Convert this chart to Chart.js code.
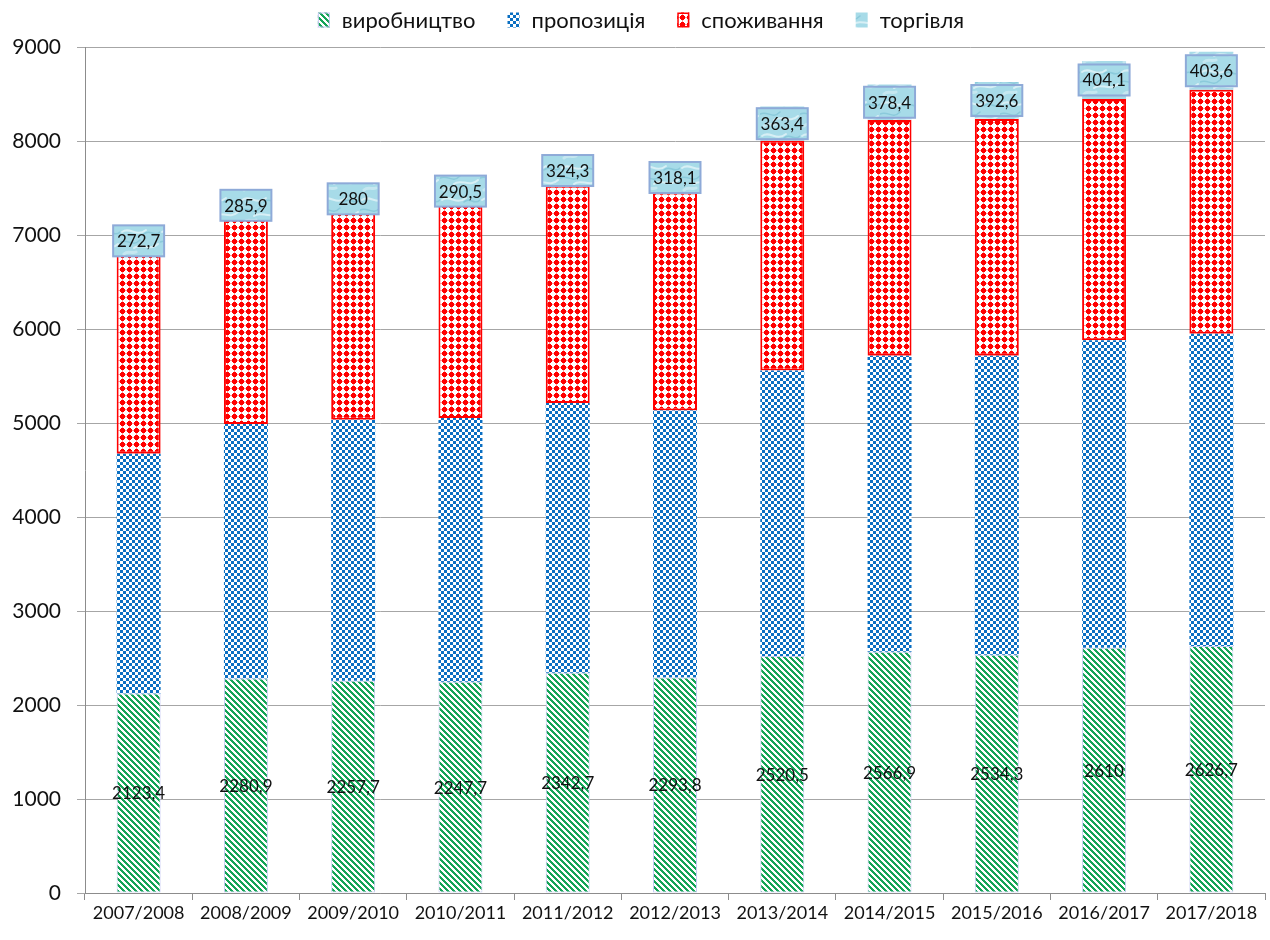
<!DOCTYPE html>
<html>
<head>
<meta charset="utf-8">
<title>Баланс</title>
<script src="https://cdn.jsdelivr.net/npm/chart.js@4/dist/chart.umd.min.js"></script>
<style>
  html, body { margin: 0; padding: 0; background: #ffffff; }
  #wrap { width: 1270px; height: 940px; }
</style>
</head>
<body>
<div id="wrap"><canvas id="chart" width="1270" height="940"></canvas></div>
<script>
// Marketing years
const seasons = ['2007/2008', '2008/2009', '2009/2010', '2010/2011', '2011/2012', '2012/2013',
                 '2013/2014', '2014/2015', '2015/2016', '2016/2017', '2017/2018'];

// Stacked components
const production  = [2123.4, 2280.9, 2257.7, 2247.7, 2342.7, 2293.8, 2520.5, 2566.9, 2534.3, 2610, 2626.7];
const supply      = [2550, 2708, 2777, 2805, 2870, 2840, 3039, 3149, 3182, 3269, 3323];
const consumption = [2128, 2184, 2210, 2269, 2311, 2319, 2443, 2507, 2518, 2568, 2596];
const trade       = [272.7, 285.9, 280, 290.5, 324.3, 318.1, 363.4, 378.4, 392.6, 404.1, 403.6];

// Value axis ticks
const yTicks = [0, 1000, 2000, 3000, 4000, 5000, 6000, 7000, 8000, 9000];

const seriesNames = ['виробництво', 'пропозиція', 'споживання', 'торгівля'];

const FONT = "Lato, 'Open Sans', 'DejaVu Sans', sans-serif";

function tile(w, h, paint) {
  const c = document.createElement('canvas');
  c.width = w; c.height = h;
  const g = c.getContext('2d');
  paint(g, w, h);
  return g.createPattern(c, 'repeat');
}

// Diagonal green hatch
const greenHatch = tile(6, 6, (g) => {
  g.fillStyle = '#ffffff'; g.fillRect(0, 0, 6, 6);
  g.fillStyle = '#14a457';
  for (let y = 0; y < 6; y++) {
    for (let x = 0; x < 6; x++) {
      if (((x - y) % 6 + 6) % 6 < 3) g.fillRect(x, y, 1, 1);
    }
  }
});

// Small blue checkerboard
const blueChecker = tile(6, 6, (g) => {
  g.fillStyle = '#ffffff'; g.fillRect(0, 0, 6, 6);
  g.fillStyle = '#0a6fc2';
  g.fillRect(0, 0, 3, 3);
  g.fillRect(3, 3, 3, 3);
});

// Red dots on a faint grid
const redDots = tile(7, 7, (g) => {
  g.fillStyle = '#ffffff'; g.fillRect(0, 0, 7, 7);
  g.fillStyle = 'rgba(255,0,0,0.45)';
  g.fillRect(0, 3, 7, 1);
  g.fillRect(3, 0, 1, 7);
  g.fillStyle = '#ff0000';
  g.fillRect(2, 1, 3, 5);
  g.fillRect(1, 2, 5, 3);
});

// Pale water-like texture
const waterTex = tile(40, 32, (g, w, h) => {
  g.fillStyle = '#a7dbe8'; g.fillRect(0, 0, w, h);
  g.lineCap = 'round';
  g.strokeStyle = 'rgba(255,255,255,0.55)';
  g.lineWidth = 2;
  g.beginPath(); g.moveTo(2, 8); g.bezierCurveTo(10, 2, 16, 14, 26, 6); g.stroke();
  g.beginPath(); g.moveTo(14, 24); g.bezierCurveTo(20, 18, 30, 28, 38, 20); g.stroke();
  g.strokeStyle = 'rgba(120,190,210,0.6)';
  g.lineWidth = 1.5;
  g.beginPath(); g.moveTo(0, 18); g.bezierCurveTo(8, 14, 12, 24, 20, 16); g.stroke();
  g.beginPath(); g.moveTo(24, 10); g.bezierCurveTo(30, 4, 34, 14, 40, 8); g.stroke();
  g.strokeStyle = 'rgba(255,255,255,0.35)';
  g.lineWidth = 3;
  g.beginPath(); g.moveTo(4, 30); g.bezierCurveTo(8, 26, 12, 30, 16, 28); g.stroke();
});

const fills = [greenHatch, blueChecker, redDots, waterTex];

const fmt = (v) => String(v).replace('.', ',');

// Segment value labels: production in the middle of its bar, trade in a framed box
const valueLabels = {
  id: 'valueLabels',
  afterDatasetsDraw(chart) {
    const ctx = chart.ctx;
    ctx.save();
    ctx.font = '17px ' + FONT;
    ctx.textAlign = 'center';
    ctx.textBaseline = 'middle';
    ctx.fillStyle = '#111111';
    const mProd = chart.getDatasetMeta(0);
    mProd.data.forEach((el, i) => {
      ctx.fillText(fmt(production[i]), el.x, (el.y + el.base) / 2 + 1);
    });
    const mTrade = chart.getDatasetMeta(3);
    mTrade.data.forEach((el, i) => {
      const cy = (el.y + el.base) / 2;
      const bw = el.width + 7;
      const bh = 31;
      ctx.fillStyle = waterTex;
      ctx.fillRect(el.x - bw / 2, cy - bh / 2, bw, bh);
      ctx.strokeStyle = '#8eaad8';
      ctx.lineWidth = 2;
      ctx.strokeRect(el.x - bw / 2, cy - bh / 2, bw, bh);
      ctx.fillStyle = '#111111';
      ctx.fillText(fmt(trade[i]), el.x, cy + 1);
    });
    ctx.restore();
  }
};

// Centered legend row along the top edge
const topLegend = {
  id: 'topLegend',
  afterDraw(chart) {
    const ctx = chart.ctx;
    ctx.save();
    ctx.font = '22px ' + FONT;
    ctx.textBaseline = 'middle';
    const sw = 12, sh = 15, gapText = 12, gapItem = 32;
    const widths = seriesNames.map(n => ctx.measureText(n).width);
    const total = widths.reduce((a, w) => a + sw + gapText + w, 0) + gapItem * (seriesNames.length - 1);
    let x = (chart.width - total) / 2 + 6;
    const cy = 20;
    seriesNames.forEach((name, i) => {
      ctx.fillStyle = fills[i];
      ctx.fillRect(x, cy - sh / 2, sw, sh);
      if (i === 0) { ctx.strokeStyle = '#c3c8f2'; ctx.lineWidth = 1; ctx.strokeRect(x + 0.5, cy - sh / 2 + 0.5, sw - 1, sh - 1); }
      if (i === 2) { ctx.strokeStyle = '#ff0000'; ctx.lineWidth = 1.5; ctx.strokeRect(x + 0.75, cy - sh / 2 + 0.75, sw - 1.5, sh - 1.5); }
      ctx.fillStyle = '#111111';
      ctx.fillText(name, x + sw + gapText, cy + 1);
      x += sw + gapText + widths[i] + gapItem;
    });
    ctx.restore();
  }
};

const datasets = [
  { label: seriesNames[0], data: production,  backgroundColor: greenHatch, borderColor: '#c6caf4', borderWidth: 1 },
  { label: seriesNames[1], data: supply,      backgroundColor: blueChecker, borderWidth: 0 },
  { label: seriesNames[2], data: consumption, backgroundColor: redDots, borderColor: '#ff0000', borderWidth: 2 },
  { label: seriesNames[3], data: trade,       backgroundColor: waterTex, borderWidth: 0 }
].map(d => Object.assign(d, { barPercentage: 0.41, categoryPercentage: 1.0, borderSkipped: false }));

new Chart(document.getElementById('chart'), {
  type: 'bar',
  data: { labels: seasons, datasets },
  plugins: [valueLabels, topLegend],
  options: {
    responsive: false,
    animation: false,
    devicePixelRatio: 1,
    layout: { padding: { top: 47, right: 5, left: 0, bottom: 0 } },
    plugins: {
      legend: { display: false },
      tooltip: { enabled: false }
    },
    scales: {
      x: {
        stacked: true,
        offset: true,
        grid: { display: true, drawOnChartArea: false, color: '#8c8c8c', tickLength: 7, offset: true },
        border: { color: '#8c8c8c', width: 1 },
        ticks: { color: '#111111', font: { family: FONT, size: 18 }, padding: 2, maxRotation: 0, autoSkip: false },
        afterFit(scale) { scale.height = 47; }
      },
      y: {
        stacked: true,
        min: 0,
        max: 9000,
        afterBuildTicks(scale) { scale.ticks = yTicks.map(v => ({ value: v })); },
        grid: { color: '#a6a6a6', lineWidth: 1, tickLength: 8 },
        border: { color: '#8c8c8c', width: 1 },
        ticks: { color: '#111111', font: { family: FONT, size: 21 }, padding: 16, callback: (v) => String(v) },
        afterFit(scale) { scale.width = 85; }
      }
    }
  }
});
</script>
</body>
</html>
